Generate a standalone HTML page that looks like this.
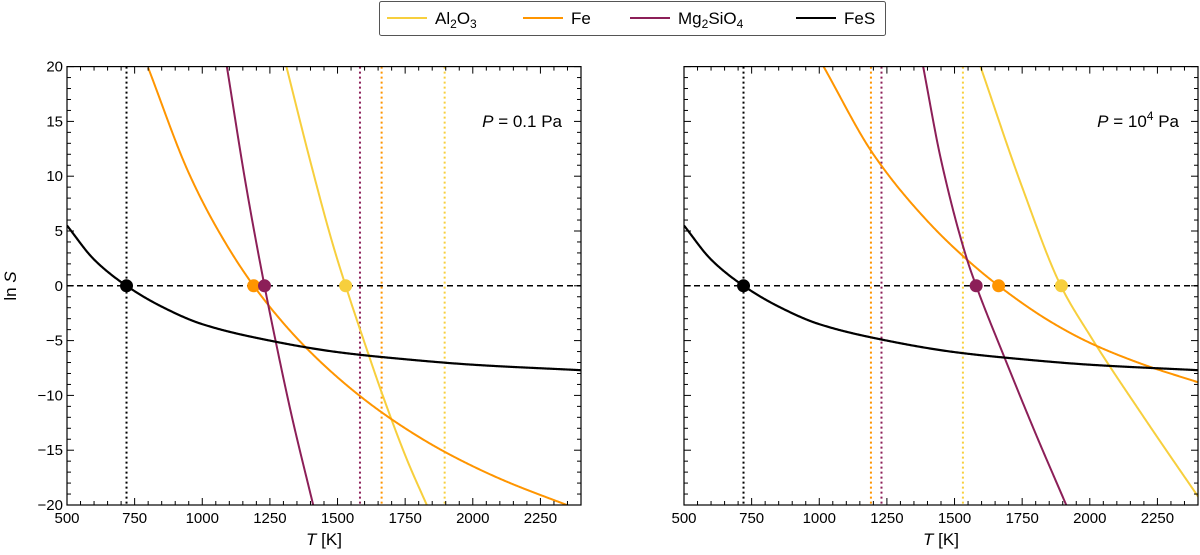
<!DOCTYPE html>
<html><head><meta charset="utf-8"><style>
body{margin:0;background:#fff;}
svg text{font-family:"Liberation Sans","DejaVu Sans",sans-serif;fill:#000;}
</style></head><body>
<svg id="c" width="1200" height="550" viewBox="0 0 1200 550" xmlns="http://www.w3.org/2000/svg"></svg>
<script>
const xTicks=[500,750,1000,1250,1500,1750,2000,2250];
const yTicks=[-20,-15,-10,-5,0,5,10,15,20];
const species=["Al2O3","Fe","Mg2SiO4","FeS"];
const colors={"Al2O3":"#f7cf3d","Fe":"#ff9500","Mg2SiO4":"#8c1f58","FeS":"#000000"};
// panel 1: P=0.1 Pa
const p1_T_Al=[1311,1400,1480,1530,1611,1667,1759,1830];
const p1_S_Al=[20,11.3,4,0,-6,-10,-16,-20];
const p1_T_Fe=[800,950,1060,1190,1370,1580,1750,1900,2100,2390];
const p1_S_Fe=[19.9,10.3,5,0,-5.3,-10,-13,-15.2,-17.6,-20.4];
const p1_T_Mg=[1091,1160,1230,1265,1330,1410];
const p1_S_Mg=[20,9.4,0,-4.3,-11.8,-20];
const T_FeS=[500,600,720,850,1000,1250,1500,1750,2000,2400];
const S_FeS=[5.5,2.4,0,-1.9,-3.5,-5.0,-6.05,-6.7,-7.2,-7.7];
const p1_cond=[1896,1663,1583,720];
const p1_dots=[1530,1190,1230,720];
// panel 2: P=1e4 Pa
const p2_T_Al=[1596,1750,1893,2000,2200,2430];
const p2_S_Al=[20,9,0,-4.5,-12,-20.3];
const p2_T_Fe=[1016,1200,1400,1550,1663,1850,2000,2200,2400];
const p2_S_Fe=[20,12,5.9,2.3,0,-3.2,-5.2,-7.2,-8.8];
const p2_T_Mg=[1384,1450,1545,1580,1684,1800,1913];
const p2_S_Mg=[20,11.5,2.5,0,-6.5,-13.5,-20];
const p2_cond=[1531,1191,1230,720];
const p2_dots=[1895,1663,1580,720];

const NS="http://www.w3.org/2000/svg";
const svg=document.getElementById('c');
function mk(t,a,p){const e=document.createElementNS(NS,t);for(const k in a)e.setAttribute(k,a[k]);(p||svg).appendChild(e);return e;}
const Y0=66.6,Y1=505,xmin=500,xmax=2400,ymin=-20,ymax=20;
function monotone(xs,ys){const n=xs.length,d=[],m=[];
 for(let i=0;i<n-1;i++)d.push((ys[i+1]-ys[i])/(xs[i+1]-xs[i]));
 m[0]=d[0];m[n-1]=d[n-2];
 for(let i=1;i<n-1;i++){if(d[i-1]*d[i]<=0)m[i]=0;else{const w1=2*(xs[i+1]-xs[i])+(xs[i]-xs[i-1]),w2=(xs[i+1]-xs[i])+2*(xs[i]-xs[i-1]);m[i]=(w1+w2)/(w1/d[i-1]+w2/d[i]);}}
 return function(x){let i=0;while(i<n-2&&x>xs[i+1])i++;const h=xs[i+1]-xs[i],t=(x-xs[i])/h,t2=t*t,t3=t2*t;
  return (2*t3-3*t2+1)*ys[i]+(t3-2*t2+t)*h*m[i]+(-2*t3+3*t2)*ys[i+1]+(t3-t2)*h*m[i+1];};}
function panel(idx,X0,X1,data,cond,dots,label,sup){
 const sx=v=>X0+(v-xmin)/(xmax-xmin)*(X1-X0), sy=v=>Y1-(v-ymin)/(ymax-ymin)*(Y1-Y0);
 const g=mk('g',{});
 const cid='clip'+idx;const cp=mk('clipPath',{id:cid},g);mk('rect',{x:X0,y:Y0,width:X1-X0,height:Y1-Y0},cp);
 const pg=mk('g',{'clip-path':`url(#${cid})`},g);
 species.forEach((s,i)=>{const l=mk('line',{x1:sx(cond[i]),x2:sx(cond[i]),y1:Y0,y2:Y1,stroke:colors[s],'stroke-width':2,'stroke-dasharray':'2,3'},pg);
  });
 const z=mk('line',{x1:X0,x2:X1,y1:sy(0),y2:sy(0),stroke:'#000','stroke-width':1.5,'stroke-dasharray':'6,4'},pg);
 
 data.forEach(([s,T,S])=>{const f=monotone(T,S);let d="";const a=T[0],b=T[T.length-1];
  for(let x=a;x<=b;x+=3){d+=(d?"L":"M")+sx(x).toFixed(2)+","+sy(f(x)).toFixed(2);}
  d+="L"+sx(b).toFixed(2)+","+sy(S[S.length-1]).toFixed(2);
  const p=mk('path',{d:d,fill:'none',stroke:colors[s],'stroke-width':s==="FeS"?2.2:2,'stroke-linejoin':'round'},pg);
  });
 species.forEach((s,i)=>{const c=mk('circle',{cx:sx(dots[i]),cy:sy(0),r:6.5,fill:colors[s]},pg);
  });
 mk('rect',{x:X0,y:Y0,width:X1-X0,height:Y1-Y0,fill:'none',stroke:'#000','stroke-width':1.2},g);
 for(let v=500;v<=2400;v+=50){const maj=(v-500)%250===0,L=maj?7:4,x=sx(v);
  mk('line',{x1:x,x2:x,y1:Y1,y2:Y1-L,stroke:'#000'},g);mk('line',{x1:x,x2:x,y1:Y0,y2:Y0+L,stroke:'#000'},g);}
 for(let v=-20;v<=20;v+=1){const maj=v%5===0,L=maj?7:4,y=sy(v);
  mk('line',{x1:X0,x2:X0+L,y1:y,y2:y,stroke:'#000'},g);mk('line',{x1:X1,x2:X1-L,y1:y,y2:y,stroke:'#000'},g);}
 xTicks.forEach(v=>{const t=mk('text',{x:sx(v),y:Y1+18,'text-anchor':'middle','font-size':15},g);t.textContent=v;
  });
 if(idx===1)yTicks.forEach(v=>{const t=mk('text',{x:X0-4,y:sy(v)+5,'text-anchor':'end','font-size':15},g);t.textContent=v<0?'\u2212'+(-v):v;
  });
 const xt=mk('text',{x:(X0+X1)/2,y:545,'text-anchor':'middle','font-size':17},g);xt.innerHTML='<tspan font-style="italic">T</tspan> [K]';
 
 const pl=mk('text',{x:X1-19,y:127,'text-anchor':'end','font-size':17},g);
 pl.innerHTML=sup?'<tspan font-style="italic">P</tspan> = 10<tspan dy="-7" font-size="12">4</tspan><tspan dy="7"> Pa</tspan>':'<tspan font-style="italic">P</tspan> = '+label+' Pa';
 
}
panel(1,67,581,[["Al2O3",p1_T_Al,p1_S_Al],["Fe",p1_T_Fe,p1_S_Fe],["Mg2SiO4",p1_T_Mg,p1_S_Mg],["FeS",T_FeS,S_FeS]],p1_cond,p1_dots,"0.1",false);
panel(2,684,1198,[["Al2O3",p2_T_Al,p2_S_Al],["Fe",p2_T_Fe,p2_S_Fe],["Mg2SiO4",p2_T_Mg,p2_S_Mg],["FeS",T_FeS,S_FeS]],p2_cond,p2_dots,"",true);
const yl=mk('text',{x:0,y:0,'text-anchor':'middle','font-size':17,transform:'translate(16,286) rotate(-90)'});yl.innerHTML='ln <tspan font-style="italic">S</tspan>';

// legend
const lg=mk('g',{});
mk('rect',{x:379.5,y:1.5,width:506,height:34,rx:2,fill:'#fff',stroke:'#555','stroke-width':1},lg);
const lx=[387,523,630,796],labs=['Al<tspan dy="4" font-size="12">2</tspan><tspan dy="-4">O</tspan><tspan dy="4" font-size="12">3</tspan>','Fe','Mg<tspan dy="4" font-size="12">2</tspan><tspan dy="-4">SiO</tspan><tspan dy="4" font-size="12">4</tspan>','FeS'];
species.forEach((s,i)=>{const e=mk('g',{},lg);
 mk('line',{x1:lx[i],x2:lx[i]+40,y1:18,y2:18,stroke:colors[s],'stroke-width':2},e);
 const t=mk('text',{x:lx[i]+48,y:24,'font-size':17},e);t.innerHTML=labs[i];});
</script>
</body></html>
